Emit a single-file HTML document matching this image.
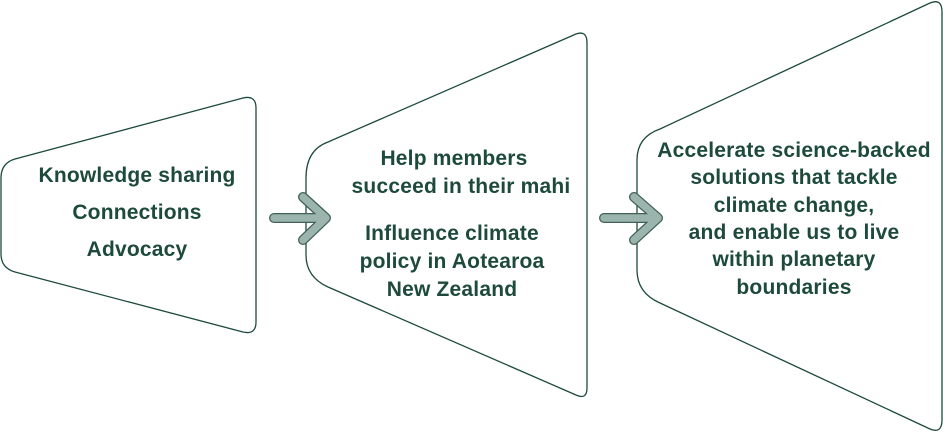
<!DOCTYPE html>
<html><head><style>
html,body{margin:0;padding:0;background:#fff;}
svg{display:block;}
text{font-family:"Liberation Sans",sans-serif;font-weight:bold;font-size:21px;letter-spacing:0.2px;fill:#1d4a3b;text-anchor:middle;}
</style></head><body>
<svg width="943" height="433" viewBox="0 0 943 433">
<g fill="none" stroke="#1d4a3b" stroke-width="1.3">
<path d="M1,178 Q1,163 15,159 L243,98 Q256,95 256,108 L256,322 Q256,335 243,332 L15,272 Q1,268 1,254 Z"/>
<path d="M306,178 Q306,150 328,142 L576,34 Q587,30 587,43 L587,388 Q587,400 576,395 L328,287 Q306,277 306,255 Z"/>
<path d="M637,160 Q637,137 660,129 L930,3 Q942,-2 942,12 L942,420 Q942,434 930,429 L660,303 Q637,293 637,270 Z"/>
</g>
<g fill="none" stroke-linecap="round" stroke-linejoin="round">
<path d="M274,218 L326,218 M303,197 L326,218 L303,240" stroke="#3f6156" stroke-width="10"/>
<path d="M274,218 L326,218 M303,197 L326,218 L303,240" stroke="#9bb5ae" stroke-width="7.5"/>
<path d="M604,218 L658,218 M634,197 L658,218 L634,240" stroke="#3f6156" stroke-width="10"/>
<path d="M604,218 L658,218 M634,197 L658,218 L634,240" stroke="#9bb5ae" stroke-width="7.5"/>
</g>
<text x="137" y="182">Knowledge sharing</text>
<text x="137" y="219">Connections</text>
<text x="137" y="256">Advocacy</text>
<text x="454" y="165">Help members</text>
<text x="461" y="193">succeed in their mahi</text>
<text x="452" y="240">Influence climate</text>
<text x="452" y="268">policy in Aotearoa</text>
<text x="452" y="296">New Zealand</text>
<text x="794" y="157">Accelerate science-backed</text>
<text x="794" y="184">solutions that tackle</text>
<text x="794" y="212">climate change,</text>
<text x="794" y="239">and enable us to live</text>
<text x="794" y="266">within planetary</text>
<text x="794" y="294">boundaries</text>
</svg>
</body></html>
